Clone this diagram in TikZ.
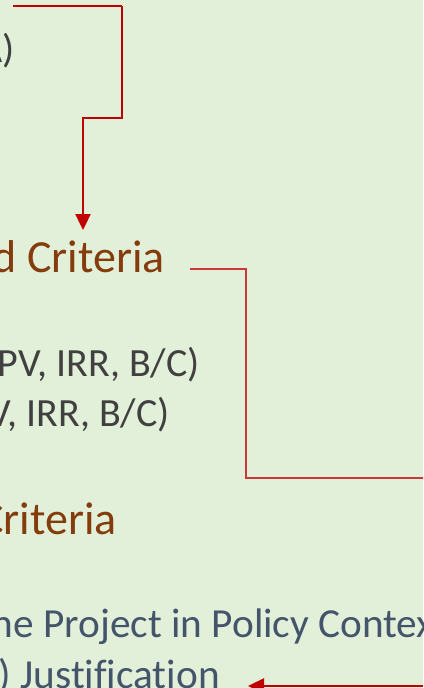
\documentclass[tikz,border=0pt]{standalone}
\usepackage{fontspec}
\setmainfont{Carlito}[Ligatures=NoCommon]
\usetikzlibrary{arrows.meta}
\definecolor{panel}{RGB}{226,239,217}
\definecolor{linkred}{RGB}{192,0,0}
\definecolor{softred}{RGB}{204,56,56}
\definecolor{heading}{RGB}{132,60,12}
\definecolor{bodytext}{RGB}{64,64,64}
\definecolor{policytext}{RGB}{68,84,106}
\tikzset{
  body/.style={inner sep=0pt, anchor=base east, text=bodytext, font=\fontsize{40}{48}\selectfont},
  head/.style={inner sep=0pt, anchor=base east, text=heading, font=\fontsize{46}{55}\selectfont},
  policy/.style={inner sep=0pt, text=policytext, font=\fontsize{41.3}{50}\selectfont},
  thinlink/.style={draw=linkred, line width=1.1pt},
  thicklink/.style={draw=linkred, line width=2.4pt},
  softlink/.style={draw=softred, line width=1.3pt},
  bigtip/.style={-{Triangle[width=15pt,length=16pt]}},
}
\begin{document}
\begin{tikzpicture}[x=1pt,y=-1pt]
  \useasboundingbox (0,0) rectangle (423,688);
  \fill[panel] (0,0) rectangle (423,688);
  \clip (0,0) rectangle (423,688);

  % text lines
  \node[body] (cea) at (15,62) {A)};
  \node[head] (crit1) at (165,272) {d Criteria};
  \node[body] (npv1) at (200,376) {PV, IRR, B/C)};
  \node[body] (npv2) at (170,426) {V, IRR, B/C)};
  \node[head] (crit2) at (117,534) {Criteria};
  \node[policy, anchor=base west] (ctx) at (-8.5,637) {he Project in Policy Context};
  \node[policy, anchor=base east] (just) at (220,688) {) Justification};

  % connector into the first criteria heading
  \coordinate (t0) at (13,6);
  \coordinate (t1) at (122,6);
  \coordinate (t2) at (122,118);
  \coordinate (t3) at (83,118);
  \coordinate (t4) at (83,230);
  \draw[thinlink] (t0) -- (t1);
  \draw[thicklink, bigtip] (t1) -- (t2) -- (t3) -- (t4);

  % connector leaving the first criteria heading
  \coordinate (r0) at (190,269);
  \coordinate (r1) at (246,269);
  \coordinate (r2) at (246,478);
  \coordinate (r3) at (424,478);
  \draw[softlink] (r0) -- (r1) -- (r2) -- (r3);

  % connector into the justification line
  \coordinate (b0) at (424,686);
  \coordinate (b1) at (248,686);
  \draw[thicklink, bigtip] (b0) -- (b1);
\end{tikzpicture}
\end{document}
